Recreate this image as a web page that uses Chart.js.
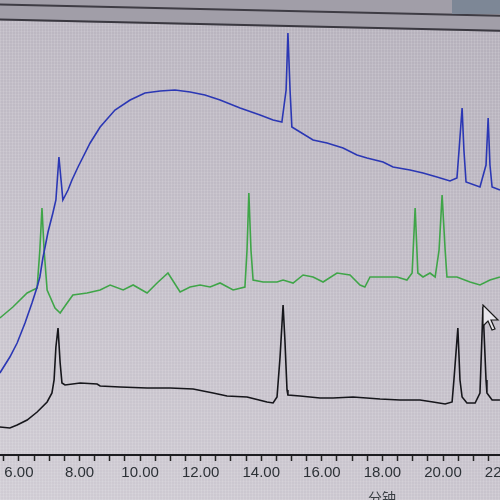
<!DOCTYPE html>
<html lang="zh">
<head>
    <meta charset="UTF-8">
    <title>Chromatogram</title>
    <script src="https://cdn.jsdelivr.net/npm/chart.js"></script>
    <style>
        html, body {
            margin: 0;
            width: 500px;
            height: 500px;
            overflow: hidden;
        }
        body {
            position: relative;
            font-family: "Liberation Sans", Arial, sans-serif;
            background:
                repeating-linear-gradient(90deg, rgba(255,255,255,0.12) 0 1px, transparent 1px 3px),
                repeating-linear-gradient(0deg, rgba(255,255,255,0.09) 0 1px, transparent 1px 3px),
                linear-gradient(20deg, #d0ccd4 0%, #c2bdc7 50%, #b4afba 100%);
        }
        #chart {
            position: absolute;
            left: -20px;
            top: 0;
        }
        .toolbar {
            position: absolute;
            left: -20px;
            top: -12px;
            width: 560px;
            height: 30px;
            background: #a19ea8;
            border-bottom: 2px solid #3a3840;
            transform: rotate(1.3deg);
            transform-origin: left top;
        }
        .toolbar .strip {
            position: absolute;
            left: 0;
            right: 0;
            top: 15px;
            height: 2px;
            background: #3e3c44;
        }
        .corner {
            position: absolute;
            right: 0;
            top: 0;
            width: 48px;
            height: 14px;
            background: #7d8796;
        }
        .unit {
            position: absolute;
            left: 368px;
            top: 487px;
            font-family: "Noto Sans CJK SC", sans-serif;
            font-size: 14px;
            color: #3a3f44;
        }
        .cursor {
            position: absolute;
            left: 482px;
            top: 304px;
        }
    </style>
</head>
<body>

<div class="toolbar"><div class="strip"></div></div>
<div class="corner"></div>
<canvas id="chart" width="560" height="500"></canvas>
<div class="unit">分钟</div>
<svg class="cursor" width="20" height="28" viewBox="0 0 20 28">
    <path d="M1 1 L1 22 L6 17 L10 26 L13 25 L9 16 L16 16 Z" fill="#e8e6ec" stroke="#1a1a1a" stroke-width="1.2"/>
</svg>

<script>
    // retention time in minutes, signal height in arbitrary units
    const blueTime = [5.37, 5.70, 5.94, 6.20, 6.43, 6.60, 6.69, 6.79, 6.96, 7.12, 7.22, 7.32, 7.39, 7.45, 7.62, 7.75, 7.95,
        8.35, 8.68, 9.17, 9.67, 10.16, 10.66, 11.15, 11.65, 12.14, 12.64, 13.30, 13.96, 14.39, 14.68, 14.82, 14.88, 14.95,
        15.01, 15.28, 15.71, 16.17, 16.70, 17.16, 17.49, 18.02, 18.35, 18.91, 19.34, 19.80, 20.23, 20.46, 20.53, 20.63,
        20.69, 20.76, 21.22, 21.42, 21.49, 21.55, 21.62, 21.88];
    const blueValue = [82, 98, 112, 132, 152, 168, 178, 197, 223, 242, 255, 298, 275, 255, 265, 275, 288,
        312, 328, 345, 355, 362, 364, 365, 363, 360, 355, 347, 340, 335, 333, 365, 422, 365,
        328, 323, 315, 312, 307, 300, 297, 293, 288, 285, 282, 278, 274, 277, 305, 347,
        305, 273, 268, 290, 337, 290, 268, 265];

    const greenTime = [5.37, 5.80, 6.27, 6.60, 6.69, 6.76, 6.83, 6.93, 7.19, 7.36, 7.59, 7.78, 8.25, 8.68, 9.01, 9.44,
        9.77, 10.23, 10.56, 10.92, 11.32, 11.65, 11.98, 12.31, 12.64, 13.07, 13.46, 13.53, 13.59, 13.66, 13.73, 14.06,
        14.52, 14.72, 15.05, 15.38, 15.71, 16.04, 16.50, 16.93, 17.26, 17.42, 17.59, 18.02, 18.48, 18.81, 18.98, 19.08,
        19.17, 19.34, 19.57, 19.74, 19.87, 19.97, 20.07, 20.13, 20.46, 20.89, 21.22, 21.55, 21.88];
    const greenValue = [137, 148, 162, 167, 205, 247, 205, 165, 147, 142, 152, 160, 162, 165, 170, 165,
        170, 162, 172, 182, 163, 168, 170, 168, 172, 165, 168, 205, 262, 205, 175, 173,
        173, 175, 172, 180, 178, 173, 182, 180, 170, 168, 178, 178, 178, 175, 182, 247,
        182, 178, 182, 178, 205, 260, 205, 178, 178, 173, 170, 175, 178];

    const blackTime = [5.37, 5.70, 5.94, 6.27, 6.60, 6.93, 7.09, 7.16, 7.22, 7.29, 7.36, 7.42, 7.52, 8.02, 8.58, 8.68,
        9.34, 10.23, 10.99, 11.75, 12.41, 12.87, 13.53, 14.19, 14.39, 14.52, 14.62, 14.72, 14.78, 14.85, 14.88, 15.28,
        15.94, 16.37, 17.03, 17.92, 18.58, 19.24, 19.67, 20.07, 20.30, 20.36, 20.49, 20.56, 20.63, 20.79, 21.06, 21.22,
        21.32, 21.42, 21.45, 21.62, 21.88];
    const blackValue = [28, 27, 30, 35, 43, 53, 62, 75, 108, 127, 92, 72, 70, 72, 71, 69,
        68, 67, 67, 66, 62, 59, 58, 53, 52, 58, 98, 150, 115, 65, 60, 59,
        57, 57, 58, 56, 55, 55, 53, 51, 53, 75, 127, 75, 58, 52, 52, 62,
        148, 75, 62, 55, 55];

    const xMin = 4.714;
    const xMax = 23.202;

    function points(times, values) {
        return times.map((t, i) => ({ x: t, y: values[i] }));
    }

    function trace(values, times, color) {
        return {
            data: points(times, values),
            borderColor: color,
            borderWidth: 1.6,
            pointRadius: 0,
            tension: 0,
            fill: false
        };
    }

    new Chart(document.getElementById('chart'), {
        type: 'line',
        data: {
            datasets: [
                trace(blueValue, blueTime, '#2b37b4'),
                trace(greenValue, greenTime, '#3fa548'),
                trace(blackValue, blackTime, '#16161b')
            ]
        },
        options: {
            responsive: false,
            animation: false,
            layout: { padding: { top: 33, bottom: 15, left: 0, right: 0 } },
            plugins: { legend: { display: false }, tooltip: { enabled: false } },
            scales: {
                x: {
                    type: 'linear',
                    min: xMin,
                    max: xMax,
                    grid: { drawOnChartArea: false, tickLength: 6, tickColor: '#222', tickWidth: 1.5 },
                    border: { color: '#1c1c20', width: 2 },
                    ticks: {
                        stepSize: 0.5,
                        autoSkip: false,
                        includeBounds: false,
                        maxRotation: 0,
                        padding: 3,
                        color: '#2c3136',
                        font: { family: '"Liberation Sans", Arial', size: 15 },
                        callback: v => (Math.abs(v % 2) < 1e-6 ? v.toFixed(2) : '')
                    }
                },
                y: { display: false, min: 0, max: 422 }
            }
        }
    });
</script>

</body>
</html>
